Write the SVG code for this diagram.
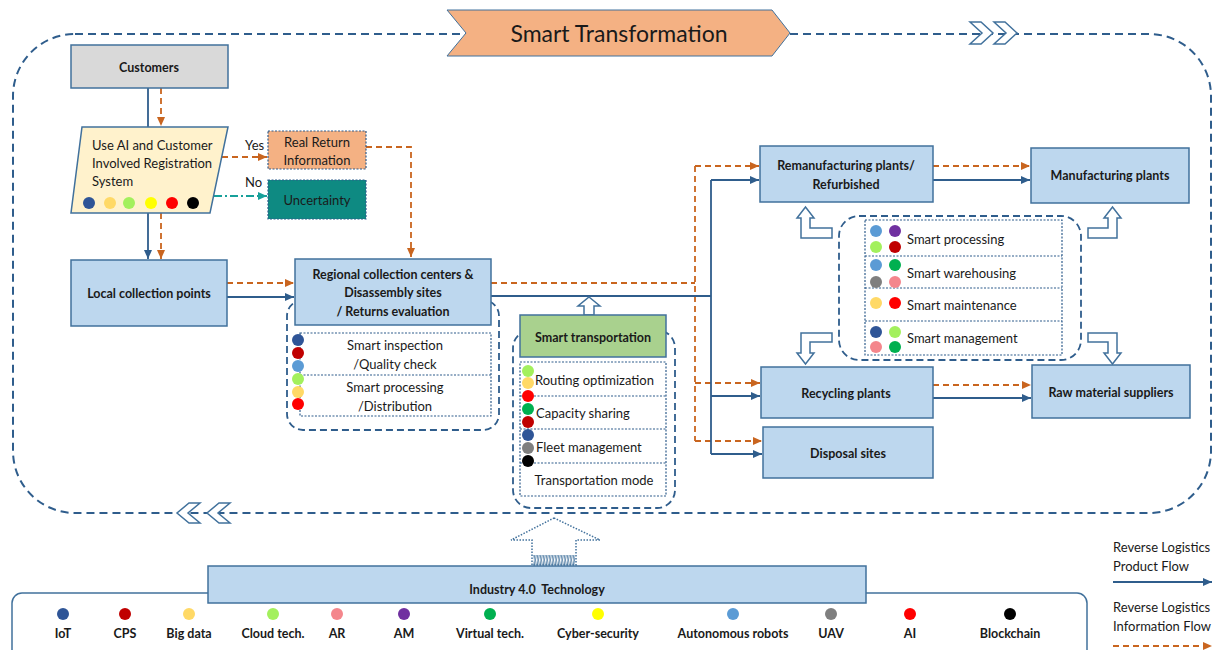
<svg xmlns="http://www.w3.org/2000/svg" width="1215" height="650" viewBox="0 0 1215 650">
<style>
.t{font-family:Lato,"Liberation Sans",sans-serif;fill:#1a1a1a;dominant-baseline:central}
.b{font-weight:700;font-size:12.5px;text-anchor:middle}
.r{font-weight:400;font-size:13px}
.m{text-anchor:middle}
.box{fill:#bdd7ee;stroke:#41719c;stroke-width:1.5}
.pnl{fill:none;stroke:#2f5d8c;stroke-width:1.8;stroke-dasharray:7 4}
.dot{fill:none;stroke:#2f5d8c;stroke-width:1.2;stroke-dasharray:2 1.5}
.hol{fill:#fff;stroke:#41719c;stroke-width:1.5}
.pf{fill:none;stroke:#2f5d8c;stroke-width:1.8}
.if{fill:none;stroke:#c9651f;stroke-width:1.8;stroke-dasharray:6 4}
.c1{fill:#2f5597}.c2{fill:#c00000}.c3{fill:#ffd966}.c4{fill:#a3f05d}.c5{fill:#f4868c}.c6{fill:#7030a0}
.c7{fill:#00b050}.c8{fill:#ffff00}.c9{fill:#5b9bd5}.c10{fill:#7f7f7f}.c11{fill:#ff0000}.c12{fill:#000}
</style>
<defs>
<marker id="ab" markerUnits="userSpaceOnUse" markerWidth="10" markerHeight="10" refX="9" refY="5" orient="auto"><path d="M0,1 L9,5 L0,9 Z" fill="#2f5d8c"/></marker>
<marker id="ao" markerUnits="userSpaceOnUse" markerWidth="10" markerHeight="10" refX="9" refY="5" orient="auto"><path d="M0,1 L9,5 L0,9 Z" fill="#c9651f"/></marker>
<marker id="at" markerUnits="userSpaceOnUse" markerWidth="10" markerHeight="10" refX="9" refY="5" orient="auto"><path d="M0,1 L9,5 L0,9 Z" fill="#17a09a"/></marker>
<pattern id="hatch" width="3" height="10" patternUnits="userSpaceOnUse"><path d="M0,0 Q1.5,5 0,10 M1.5,0 Q3,5 1.5,10" stroke="#41719c" stroke-width="0.8" fill="none"/></pattern>
</defs>

<g id="loop">
<rect x="13" y="34" width="1198" height="479" rx="62" fill="none" stroke="#2f5d8c" stroke-width="2" stroke-dasharray="8 5"/>
<polygon class="hol" stroke-width="1.2" points="970,22 981,22 993,33 981,44 970,44 982,33"/>
<polygon class="hol" stroke-width="1.2" points="994,22 1005,22 1017,33 1005,44 994,44 1006,33"/>
<polygon class="hol" stroke-width="1.2" points="200,503 189,503 177,513 189,523 200,523 188,513"/>
<polygon class="hol" stroke-width="1.2" points="230,503 219,503 207,513 219,523 230,523 218,513"/>
</g>

<g id="banner">
<polygon points="447,10 772,10 790,33 772,56 447,56 466,33" fill="#f4b183" stroke="#41719c" stroke-width="1"/>
<text class="t m" x="619" y="33" font-size="23">Smart Transformation</text>
</g>

<g id="connectors">
<path class="pf" d="M148,88 V127"/>
<path class="if" d="M161,88 V126" marker-end="url(#ao)"/>
<path class="pf" d="M148,213 V259" marker-end="url(#ab)"/>
<path class="if" d="M161,213 V259" marker-end="url(#ao)"/>
<path class="if" d="M222,157 H267" marker-end="url(#ao)"/>
<path d="M214,196 H267" fill="none" stroke="#17a09a" stroke-width="1.8" stroke-dasharray="8 3 2 3" marker-end="url(#at)"/>
<path class="if" d="M366,147 H411 V257" marker-end="url(#ao)"/>
<path class="if" d="M227,283 H294" marker-end="url(#ao)"/>
<path class="pf" d="M227,297 H294" marker-end="url(#ab)"/>
<path class="if" d="M491,283 H695 M695,166 V441"/>
<path class="if" d="M695,166 H759" marker-end="url(#ao)"/>
<path class="if" d="M695,383 H760" marker-end="url(#ao)"/>
<path class="if" d="M695,441 H762" marker-end="url(#ao)"/>
<path class="pf" d="M491,296 H711 M711,180 V454"/>
<path class="pf" d="M711,180 H759" marker-end="url(#ab)"/>
<path class="pf" d="M711,396 H760" marker-end="url(#ab)"/>
<path class="pf" d="M711,454 H762" marker-end="url(#ab)"/>
<path class="if" d="M933,166 H1030" marker-end="url(#ao)"/>
<path class="pf" d="M933,180 H1030" marker-end="url(#ab)"/>
<path class="if" d="M933,385 H1031" marker-end="url(#ao)"/>
<path class="pf" d="M933,398 H1031" marker-end="url(#ab)"/>
<polygon class="hol" points="832,228 810,228 810,218 814,218 805.5,207 797,218 801,218 801,238 832,238"/>
<polygon class="hol" points="1088,228 1108,228 1108,218 1104,218 1112.5,207 1121,218 1117,218 1117,238 1088,238"/>
<polygon class="hol" points="832,333 801,333 801,353 797,353 805.5,364 814,353 810,353 810,342 832,342"/>
<polygon class="hol" points="1088,333 1117,333 1117,353 1121,353 1112.5,364 1104,353 1108,353 1108,342 1088,342"/>
<polygon class="hol" points="589,297 600,306 594,306 594,315 584,315 584,306 578,306"/>
<polygon points="554,518 600,540 576,540 576,565 532,565 532,540 511,540" fill="#fff" stroke="#41719c" stroke-width="1.5" stroke-dasharray="1.5 1.5"/>
<rect x="533" y="555" width="42" height="10" fill="url(#hatch)"/>
</g>

<g id="customers">
<rect x="71" y="45" width="157" height="43" fill="#d9d9d9" stroke="#41719c" stroke-width="1.5"/>
<text class="t b" x="149" y="67">Customers</text>
</g>

<g id="registration">
<polygon points="82,127 228,127 210,213 71,213" fill="#fff2cc" stroke="#41719c" stroke-width="1.5"/>
<text class="t r" x="92" y="145">Use AI and Customer</text>
<text class="t r" x="92" y="163">Involved Registration</text>
<text class="t r" x="92" y="181">System</text>
<circle class="c1" cx="89" cy="203" r="6"/><circle class="c3" cx="110" cy="203" r="6"/><circle class="c4" cx="129" cy="203" r="6"/>
<circle class="c8" cx="151" cy="203" r="6"/><circle class="c11" cx="172" cy="203" r="6"/><circle class="c12" cx="193" cy="203" r="6"/>
<text class="t r" x="245" y="145">Yes</text>
<text class="t r" x="245" y="182">No</text>
</g>

<g id="real-return">
<rect x="268" y="131" width="98" height="38" fill="#f4b183" stroke="#2f5d8c" stroke-width="1.2" stroke-dasharray="2 1.5"/>
<text class="t r m" x="317" y="142">Real Return</text>
<text class="t r m" x="317" y="160">Information</text>
</g>

<g id="uncertainty">
<rect x="268" y="180" width="98" height="39" fill="#0e8a82" stroke="#2f5d8c" stroke-width="1.2" stroke-dasharray="2 1.5"/>
<text class="t r m" x="317" y="200">Uncertainty</text>
</g>

<g id="local">
<rect class="box" x="71" y="260" width="156" height="66"/>
<text class="t b" x="149" y="293">Local collection points</text>
</g>

<g id="regional">
<rect class="pnl" x="287" y="300" width="212" height="130" rx="16"/>
<rect class="box" x="295" y="259" width="196" height="66"/>
<text class="t b" x="393" y="274">Regional collection centers &amp;</text>
<text class="t b" x="393" y="292">Disassembly sites</text>
<text class="t b" x="393" y="311">/ Returns evaluation</text>
<rect class="dot" x="300" y="333" width="191" height="83" fill="#fff"/>
<path class="dot" d="M300,375 H491"/>
<text class="t r m" x="395" y="345">Smart inspection</text>
<text class="t r m" x="395" y="364">/Quality check</text>
<text class="t r m" x="395" y="387">Smart processing</text>
<text class="t r m" x="395" y="406">/Distribution</text>
<circle class="c1" cx="298" cy="340" r="6"/><circle class="c2" cx="298" cy="353" r="6"/><circle class="c9" cx="298" cy="366" r="6"/>
<circle class="c4" cx="298" cy="379" r="6"/><circle class="c3" cx="298" cy="392" r="6"/><circle class="c11" cx="298" cy="404" r="6"/>
</g>

<g id="transport">
<rect class="pnl" x="513" y="330" width="162" height="178" rx="18"/>
<rect x="520" y="315" width="146" height="42" fill="#a9d18e" stroke="#41719c" stroke-width="1.5"/>
<text class="t b" x="593" y="337">Smart transportation</text>
<rect class="dot" x="520" y="362" width="146" height="134" fill="#fff"/>
<path class="dot" d="M520,396 H666 M520,429 H666 M520,463 H666"/>
<text class="t r" x="535" y="380">Routing optimization</text>
<text class="t r" x="536" y="413">Capacity sharing</text>
<text class="t r" x="536" y="447">Fleet management</text>
<text class="t r m" x="594" y="480">Transportation mode</text>
<circle class="c4" cx="528" cy="371" r="6"/><circle class="c3" cx="528" cy="383" r="6"/><circle class="c11" cx="528" cy="396" r="6"/>
<circle class="c7" cx="528" cy="409" r="6"/><circle class="c2" cx="528" cy="422" r="6"/><circle class="c1" cx="528" cy="435" r="6"/>
<circle class="c10" cx="528" cy="448" r="6"/><circle class="c12" cx="528" cy="461" r="6"/>
</g>

<g id="remanufacturing">
<rect class="box" x="760" y="146" width="173" height="56"/>
<text class="t b" x="846" y="165">Remanufacturing plants/</text>
<text class="t b" x="846" y="184">Refurbished</text>
</g>

<g id="manufacturing">
<rect class="box" x="1031" y="148" width="158" height="55"/>
<text class="t b" x="1110" y="175">Manufacturing plants</text>
</g>

<g id="smart-ops">
<rect class="pnl" x="839" y="216" width="242" height="144" rx="20"/>
<rect class="dot" x="865" y="220" width="197" height="135" fill="#fff"/>
<path class="dot" d="M865,256 H1062 M865,288 H1062 M865,321 H1062"/>
<text class="t r" x="907" y="239">Smart processing</text>
<text class="t r" x="907" y="273">Smart warehousing</text>
<text class="t r" x="907" y="305">Smart maintenance</text>
<text class="t r" x="907" y="338">Smart management</text>
<circle class="c9" cx="876" cy="231" r="6"/><circle class="c6" cx="895" cy="231" r="6"/>
<circle class="c4" cx="876" cy="247" r="6"/><circle class="c2" cx="895" cy="247" r="6"/>
<circle class="c9" cx="876" cy="265" r="6"/><circle class="c7" cx="895" cy="265" r="6"/>
<circle class="c10" cx="876" cy="282" r="6"/><circle class="c5" cx="895" cy="282" r="6"/>
<circle class="c3" cx="876" cy="303" r="6"/><circle class="c11" cx="895" cy="303" r="6"/>
<circle class="c1" cx="876" cy="332" r="6"/><circle class="c4" cx="895" cy="332" r="6"/>
<circle class="c5" cx="876" cy="347" r="6"/><circle class="c7" cx="895" cy="347" r="6"/>
</g>

<g id="recycling">
<rect class="box" x="761" y="367" width="172" height="51"/>
<text class="t b" x="846" y="393">Recycling plants</text>
</g>

<g id="raw">
<rect class="box" x="1032" y="365" width="158" height="53"/>
<text class="t b" x="1111" y="392">Raw material suppliers</text>
</g>

<g id="disposal">
<rect class="box" x="763" y="427" width="170" height="51"/>
<text class="t b" x="848" y="453">Disposal sites</text>
</g>

<g id="industry">
<rect x="12" y="593" width="1075" height="75" rx="10" fill="#fff" stroke="#41719c" stroke-width="1.5"/>
<rect class="box" x="208" y="566" width="658" height="37"/>
<text class="t b" x="537" y="589">Industry 4.0&#160; Technology</text>
<circle class="c1" cx="63" cy="614" r="6"/><text class="t b" x="63" y="633">IoT</text>
<circle class="c2" cx="125" cy="614" r="6"/><text class="t b" x="125" y="633">CPS</text>
<circle class="c3" cx="189" cy="614" r="6"/><text class="t b" x="189" y="633">Big data</text>
<circle class="c4" cx="273" cy="614" r="6"/><text class="t b" x="273" y="633">Cloud tech.</text>
<circle class="c5" cx="337" cy="614" r="6"/><text class="t b" x="337" y="633">AR</text>
<circle class="c6" cx="404" cy="614" r="6"/><text class="t b" x="404" y="633">AM</text>
<circle class="c7" cx="490" cy="614" r="6"/><text class="t b" x="490" y="633">Virtual tech.</text>
<circle class="c8" cx="598" cy="614" r="6"/><text class="t b" x="598" y="633">Cyber-security</text>
<circle class="c9" cx="733" cy="614" r="6"/><text class="t b" x="733" y="633">Autonomous robots</text>
<circle class="c10" cx="831" cy="614" r="6"/><text class="t b" x="831" y="633">UAV</text>
<circle class="c11" cx="910" cy="614" r="6"/><text class="t b" x="910" y="633">AI</text>
<circle class="c12" cx="1010" cy="614" r="6"/><text class="t b" x="1010" y="633">Blockchain</text>
</g>

<g id="legend">
<text class="t r" x="1113" y="547" font-size="12.5">Reverse Logistics</text>
<text class="t r" x="1113" y="566" font-size="12.5">Product Flow</text>
<path class="pf" d="M1113,582 H1212" marker-end="url(#ab)"/>
<text class="t r" x="1113" y="607" font-size="12.5">Reverse Logistics</text>
<text class="t r" x="1113" y="626" font-size="12.5">Information Flow</text>
<path class="if" d="M1113,646 H1212" marker-end="url(#ao)"/>
</g>
</svg>
